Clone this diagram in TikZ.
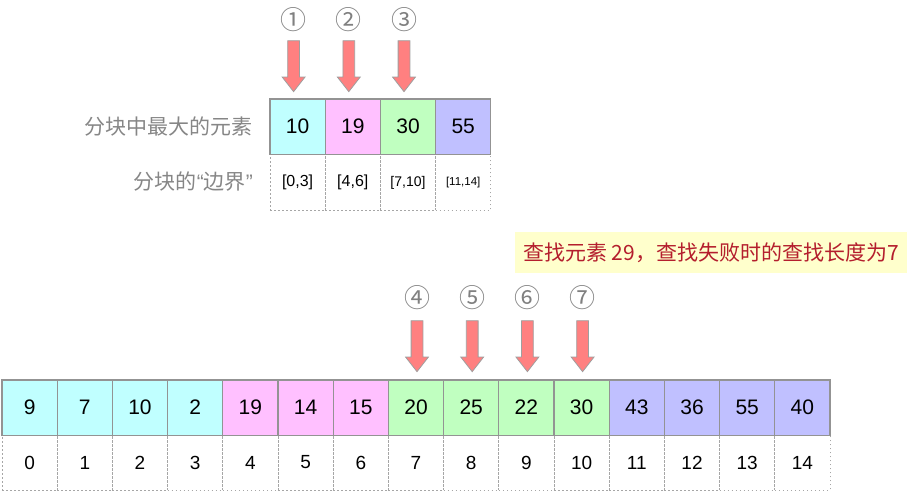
\documentclass[tikz,border=0pt]{standalone}
\usepackage{fontspec}
\setmainfont{Liberation Sans}
\newfontfamily\cjk{Noto Sans CJK SC}
\definecolor{blkcyan}{HTML}{C0FFFF}
\definecolor{blkpink}{HTML}{FFC0FF}
\definecolor{blkgreen}{HTML}{C0FFC0}
\definecolor{blkblue}{HTML}{C0C0FF}
\definecolor{arrred}{HTML}{FF8080}
\definecolor{hintred}{HTML}{B41E2D}
\definecolor{hintyellow}{HTML}{FFFFCC}
\usetikzlibrary{shapes.arrows, positioning, calc}

\begin{document}
\begin{tikzpicture}[x=1pt, y=-1pt,
  cell/.style={draw=gray!85, line width=1.2pt, fill=#1, minimum size=55.2pt, inner sep=0pt, font=\fontsize{21}{22}\selectfont},
  idx/.style={draw=gray!70, dash pattern=on 1.5pt off 2.5pt, line width=0.9pt, minimum size=55.2pt, inner sep=0pt, font=\fontsize{19}{20}\selectfont},
  fat/.style={single arrow, shape border rotate=270, draw=gray!75, fill=arrred, line width=0.8pt, inner sep=5.5pt, minimum height=51pt, single arrow head extend=5.5pt, single arrow tip angle=76},
  circ/.style={text=gray, font=\cjk\fontsize{26}{27}\selectfont, inner sep=0pt},
  lbl/.style={text=gray!95, font=\cjk\fontsize{21}{22}\selectfont, anchor=east, inner sep=0pt},
]
  \useasboundingbox (0,0) rectangle (907,491);

  % top: largest element of each block
  \foreach \v/\c/\b/\s [count=\i] in {10/blkcyan/{[0,3]}/16, 19/blkpink/{[4,6]}/16, 30/blkgreen/{[7,10]}/14, 55/blkblue/{[11,14]}/11.5} {
    \node[idx, font=\fontsize{\s}{\s}\selectfont] (tb\i) at (270+55.2*\i-27.6, 182.5) {\b};
    \node[cell=\c] (t\i) at (270+55.2*\i-27.6, 126.5) {\v};
  }
  \node[lbl] (tl) at (253, 127) {分块中最大的元素};
  \node[lbl] (bl) at (253, 182) {分块的{\rmfamily “}边界{\rmfamily ”}};

  \foreach \i/\n in {1/①, 2/②, 3/③} {
    \node[fat, anchor=tip] (a\i) at ([xshift=-4pt, yshift=6pt]t\i.north) {};
    \node[circ] (n\i) at ($(a\i.tail)+(0,-21)$) {\n};
  }

  % hint
  \node[fill=hintyellow, minimum width=392pt, minimum height=41pt, inner sep=0pt, text=hintred, font=\cjk\fontsize{21}{22}\selectfont] (hint) at (711, 252.5) {查找元素 29，查找失败时的查找长度为7};

  % bottom: the whole table
  \foreach \v/\c [count=\i from 0] in {9/blkcyan, 7/blkcyan, 10/blkcyan, 2/blkcyan, 19/blkpink, 14/blkpink, 15/blkpink, 20/blkgreen, 25/blkgreen, 22/blkgreen, 30/blkgreen, 43/blkblue, 36/blkblue, 55/blkblue, 40/blkblue} {
    \node[idx] (bi\i) at (29.6+55.2*\i, 462.5) {\i};
    \node[cell=\c] (b\i) at (29.6+55.2*\i, 407.5) {\v};
  }

  \foreach \i/\n in {7/④, 8/⑤, 9/⑥, 10/⑦} {
    \node[fat, anchor=tip] (a\i) at ([xshift=1pt, yshift=7pt]b\i.north) {};
    \node[circ] (n\i) at ($(a\i.tail)+(0,-23)$) {\n};
  }
\end{tikzpicture}
\end{document}
